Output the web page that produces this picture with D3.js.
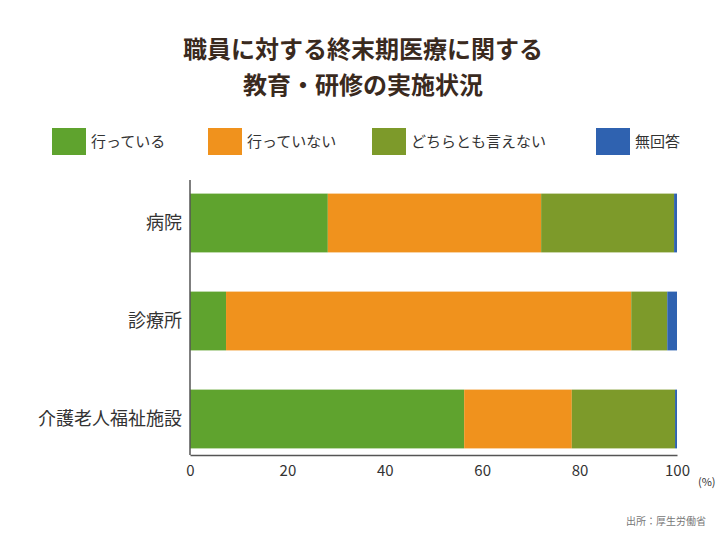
<!DOCTYPE html><html><head><meta charset="utf-8"><script src="https://cdn.jsdelivr.net/npm/d3@7"></script>
<style>body{margin:0;background:#fff}text{font-family:"Noto Sans CJK JP",sans-serif}</style></head><body><svg id="c" width="726" height="545"></svg>
<script>
const categories=["病院","診療所","介護老人福祉施設"];
const seriesNames=["行っている","行っていない","どちらとも言えない","無回答"];
const colors=["#5fa32e","#f0921d","#7d9a2a","#2f62b0"];
const s1=[28.3,7.4,56.3];
const s2=[43.8,83.2,22.1];
const s3=[27.3,7.4,21.2];
const s4=[0.6,2.0,0.4];
const ticks=[0,20,40,60,80,100];
const svg=d3.select("#c");
const x=d3.scaleLinear().domain([0,100]).range([190,677]);
const y=d3.scaleBand().domain(categories).range([174,468]).paddingInner(0.4).paddingOuter(0.2);
const T="#3a2a1e";
svg.append("text").attr("x",363).attr("y",58).attr("text-anchor","middle").attr("font-size",24).attr("font-weight","bold").attr("fill",T).text("職員に対する終末期医療に関する");
svg.append("text").attr("x",363).attr("y",94).attr("text-anchor","middle").attr("font-size",24).attr("font-weight","bold").attr("fill",T).text("教育・研修の実施状況");
const legX=[52,208,372,596];
seriesNames.forEach((n,i)=>{
  svg.append("rect").attr("x",legX[i]).attr("y",128).attr("width",34).attr("height",27).attr("fill",colors[i]);
  svg.append("text").attr("x",legX[i]+39).attr("y",147).attr("font-size",15).attr("fill","#333").text(n);
});
const data=categories.map((c,i)=>({c,v:[s1[i],s2[i],s3[i],s4[i]]}));
const stack=d3.stack().keys([0,1,2,3]).value((d,k)=>d.v[k]);
const layers=stack(data);
layers.forEach((L,k)=>{
  svg.append("g").selectAll("rect").data(L).join("rect")
    .attr("x",d=>x(d[0])).attr("width",d=>x(d[1])-x(d[0]))
    .attr("y",d=>y(d.data.c)).attr("height",y.bandwidth()).attr("fill",colors[k]);
});
svg.append("line").attr("x1",190).attr("x2",190).attr("y1",180).attr("y2",455).attr("stroke","#555").attr("stroke-width",1.5);
const ax=svg.append("g").attr("transform","translate(0,455)").call(d3.axisBottom(x).tickValues(ticks).tickSize(0).tickPadding(10));
ax.select(".domain").attr("stroke","#555").attr("stroke-width",1.5);
ax.selectAll("text").attr("font-size",15).attr("fill","#333").attr("font-family","Noto Sans CJK JP");
svg.append("text").attr("x",698).attr("y",486).attr("font-size",11).attr("fill","#333").text("(%)");
categories.forEach(c=>{
  svg.append("text").attr("x",182).attr("y",y(c)+y.bandwidth()/2+6).attr("text-anchor","end").attr("font-size",18).attr("fill","#333").text(c);
});
svg.append("text").attr("x",706).attr("y",525).attr("text-anchor","end").attr("font-size",10).attr("fill","#777").text("出所：厚生労働省");
</script></body></html>
